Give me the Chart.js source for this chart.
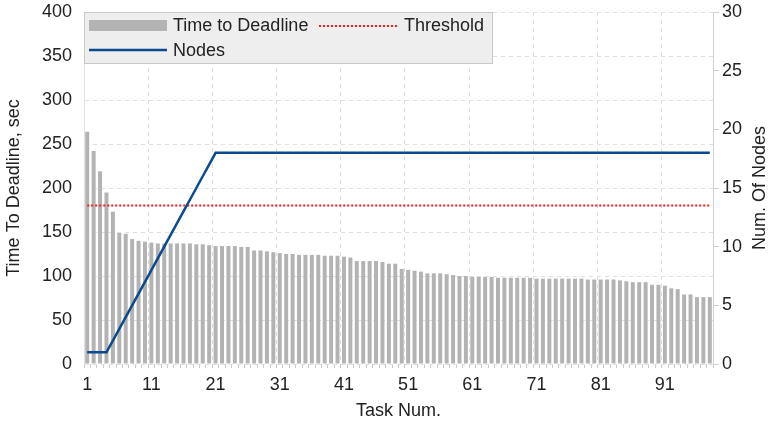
<!DOCTYPE html>
<html>
<head>
<meta charset="utf-8">
<title>Time to Deadline</title>
<script src="https://cdn.jsdelivr.net/npm/chart.js@4/dist/chart.umd.min.js"></script>
<style>
  html, body { margin: 0; padding: 0; background: #fff; }
  #wrap { width: 774px; height: 428px; position: relative; }
</style>
</head>
<body>
<div id="wrap"><canvas id="chart" width="774" height="428"></canvas></div>
<script>
'use strict';

// ── Data ──────────────────────────────────────────────────────────────────────
const tasks = Array.from({ length: 98 }, (_, i) => String(i + 1));
const xTickLabels = ['1', '11', '21', '31', '41', '51', '61', '71', '81', '91'];

const timeToDeadline = [
  264, 242, 219, 195, 173, 149, 148, 142, 140, 139,
  138, 137, 137, 137, 137, 137, 137, 136, 136, 135,
  134, 134, 134, 134, 133, 133, 129, 129, 128, 127,
  126, 125, 125, 124, 124, 124, 124, 123, 123, 123,
  122, 121, 117, 117, 117, 117, 116, 114, 114, 108,
  107, 106, 105, 103, 103, 103, 102, 101, 100, 100,
   99,  99,  99,  99,  98,  98,  98,  98,  98,  98,
   97,  97,  97,  97,  97,  97,  97,  97,  96,  96,
   96,  96,  96,  95,  94,  93,  93,  93,  90,  90,
   89,  86,  85,  79,  79,  76,  76,  76,
];

const nodes = [
   1,  1,  1,  1,  2,  3,  4,  5,  6,  7,
   8,  9, 10, 11, 12, 13, 14, 15, 16, 17,
  18, 18, 18, 18, 18, 18, 18, 18, 18, 18,
  18, 18, 18, 18, 18, 18, 18, 18, 18, 18,
  18, 18, 18, 18, 18, 18, 18, 18, 18, 18,
  18, 18, 18, 18, 18, 18, 18, 18, 18, 18,
  18, 18, 18, 18, 18, 18, 18, 18, 18, 18,
  18, 18, 18, 18, 18, 18, 18, 18, 18, 18,
  18, 18, 18, 18, 18, 18, 18, 18, 18, 18,
  18, 18, 18, 18, 18, 18, 18, 18,
];

const threshold = 180;

// ── Styles ────────────────────────────────────────────────────────────────────
const BAR_COLOR  = '#b3b3b3';
const RED        = '#ff1a1a';
const BLUE       = '#0b4a8e';
const GRID_COLOR = '#e0e0e0';
const TEXT_COLOR = '#222222';

Chart.defaults.font.family = "'Liberation Sans', Arial, sans-serif";
Chart.defaults.font.size = 18;
Chart.defaults.color = TEXT_COLOR;

// ── Legend box drawn inside the plot ──────────────────────────────────────────
const legendBox = {
  id: 'legendBox',
  afterDraw(chart) {
    const ctx = chart.ctx;
    const x = chart.chartArea.left;
    const y = chart.chartArea.top;
    ctx.save();
    ctx.fillStyle = '#eeeeee';
    ctx.fillRect(x, y, 408, 51);
    ctx.strokeStyle = '#c8c8c8';
    ctx.lineWidth = 1;
    ctx.strokeRect(x + 0.5, y + 0.5, 408, 51);

    // bar swatch
    ctx.fillStyle = BAR_COLOR;
    ctx.fillRect(x + 5, y + 8, 78, 11);

    // threshold swatch
    ctx.strokeStyle = RED;
    ctx.lineWidth = 2;
    ctx.setLineDash([2, 2]);
    ctx.beginPath();
    ctx.moveTo(x + 235, y + 14);
    ctx.lineTo(x + 313, y + 14);
    ctx.stroke();

    // nodes swatch
    ctx.setLineDash([]);
    ctx.strokeStyle = BLUE;
    ctx.lineWidth = 2.5;
    ctx.beginPath();
    ctx.moveTo(x + 5, y + 38);
    ctx.lineTo(x + 83, y + 38);
    ctx.stroke();

    ctx.fillStyle = TEXT_COLOR;
    ctx.font = "18px 'Liberation Sans', Arial, sans-serif";
    ctx.textBaseline = 'middle';
    ctx.fillText('Time to Deadline', x + 89, y + 14);
    ctx.fillText('Threshold', x + 320, y + 14);
    ctx.fillText('Nodes', x + 89, y + 39);
    ctx.restore();
  },
};

// ── Right axis title (reads bottom to top) ────────────────────────────────────
const rightTitle = {
  id: 'rightTitle',
  afterDraw(chart) {
    const ctx = chart.ctx;
    const area = chart.chartArea;
    ctx.save();
    ctx.translate(760, (area.top + area.bottom) / 2);
    ctx.rotate(-Math.PI / 2);
    ctx.fillStyle = TEXT_COLOR;
    ctx.font = "18px 'Liberation Sans', Arial, sans-serif";
    ctx.textAlign = 'center';
    ctx.textBaseline = 'middle';
    ctx.fillText('Num. Of Nodes', 0, 0);
    ctx.restore();
  },
};

// ── Chart ─────────────────────────────────────────────────────────────────────
new Chart(document.getElementById('chart'), {
  type: 'bar',
  data: {
    labels: tasks,
    datasets: [
      {
        type: 'bar',
        label: 'Time to Deadline',
        data: timeToDeadline,
        backgroundColor: BAR_COLOR,
        categoryPercentage: 1,
        barPercentage: 0.62,
        yAxisID: 'y',
        order: 3,
      },
      {
        type: 'line',
        label: 'Threshold',
        data: [
          { x: tasks[0], y: threshold },
          { x: tasks[tasks.length - 1], y: threshold },
        ],
        borderColor: RED,
        borderWidth: 2,
        borderDash: [2, 2],
        pointRadius: 0,
        yAxisID: 'y',
        order: 2,
      },
      {
        type: 'line',
        label: 'Nodes',
        data: nodes,
        borderColor: BLUE,
        borderWidth: 2.5,
        pointRadius: 0,
        tension: 0,
        yAxisID: 'y2',
        order: 1,
      },
    ],
  },
  options: {
    responsive: false,
    animation: false,
    layout: { padding: { top: 12, left: 0, right: 0, bottom: 0 } },
    plugins: {
      legend: { display: false },
      tooltip: { enabled: false },
    },
    scales: {
      x: {
        offset: true,
        grid: {
          offset: true,
          color: c => (c.index % 10 === 0 ? GRID_COLOR : 'rgba(0,0,0,0)'),
          tickColor: '#c8c8c8',
          tickLength: 4,
        },
        border: { display: false, dash: [4, 4] },
        ticks: {
          autoSkip: false,
          maxRotation: 0,
          padding: 6,
          callback: function (value) {
            const lbl = this.getLabelForValue(value);
            return xTickLabels.includes(lbl) ? lbl : '';
          },
        },
        title: {
          display: true,
          text: 'Task Num.',
          padding: { top: 0, bottom: 6 },
        },
        afterFit: s => { s.height = 64; },
      },
      y: {
        position: 'left',
        min: 0,
        max: 400,
        ticks: { stepSize: 50, padding: 12 },
        grid: { color: GRID_COLOR, drawTicks: false },
        border: { display: true, color: GRID_COLOR, dash: [4, 4] },
        title: {
          display: true,
          text: 'Time To Deadline, sec',
          padding: { top: 3, bottom: 0 },
        },
        afterFit: s => { s.width = 84; s.paddingTop = 0; },
      },
      y2: {
        position: 'right',
        min: 0,
        max: 30,
        ticks: { stepSize: 5, padding: 3 },
        grid: { drawOnChartArea: false, tickLength: 6, tickColor: '#d0d0d0' },
        border: { display: true, color: '#d0d0d0' },
        afterFit: s => { s.width = 61; s.paddingTop = 0; },
      },
    },
  },
  plugins: [legendBox, rightTitle],
});
</script>
</body>
</html>
